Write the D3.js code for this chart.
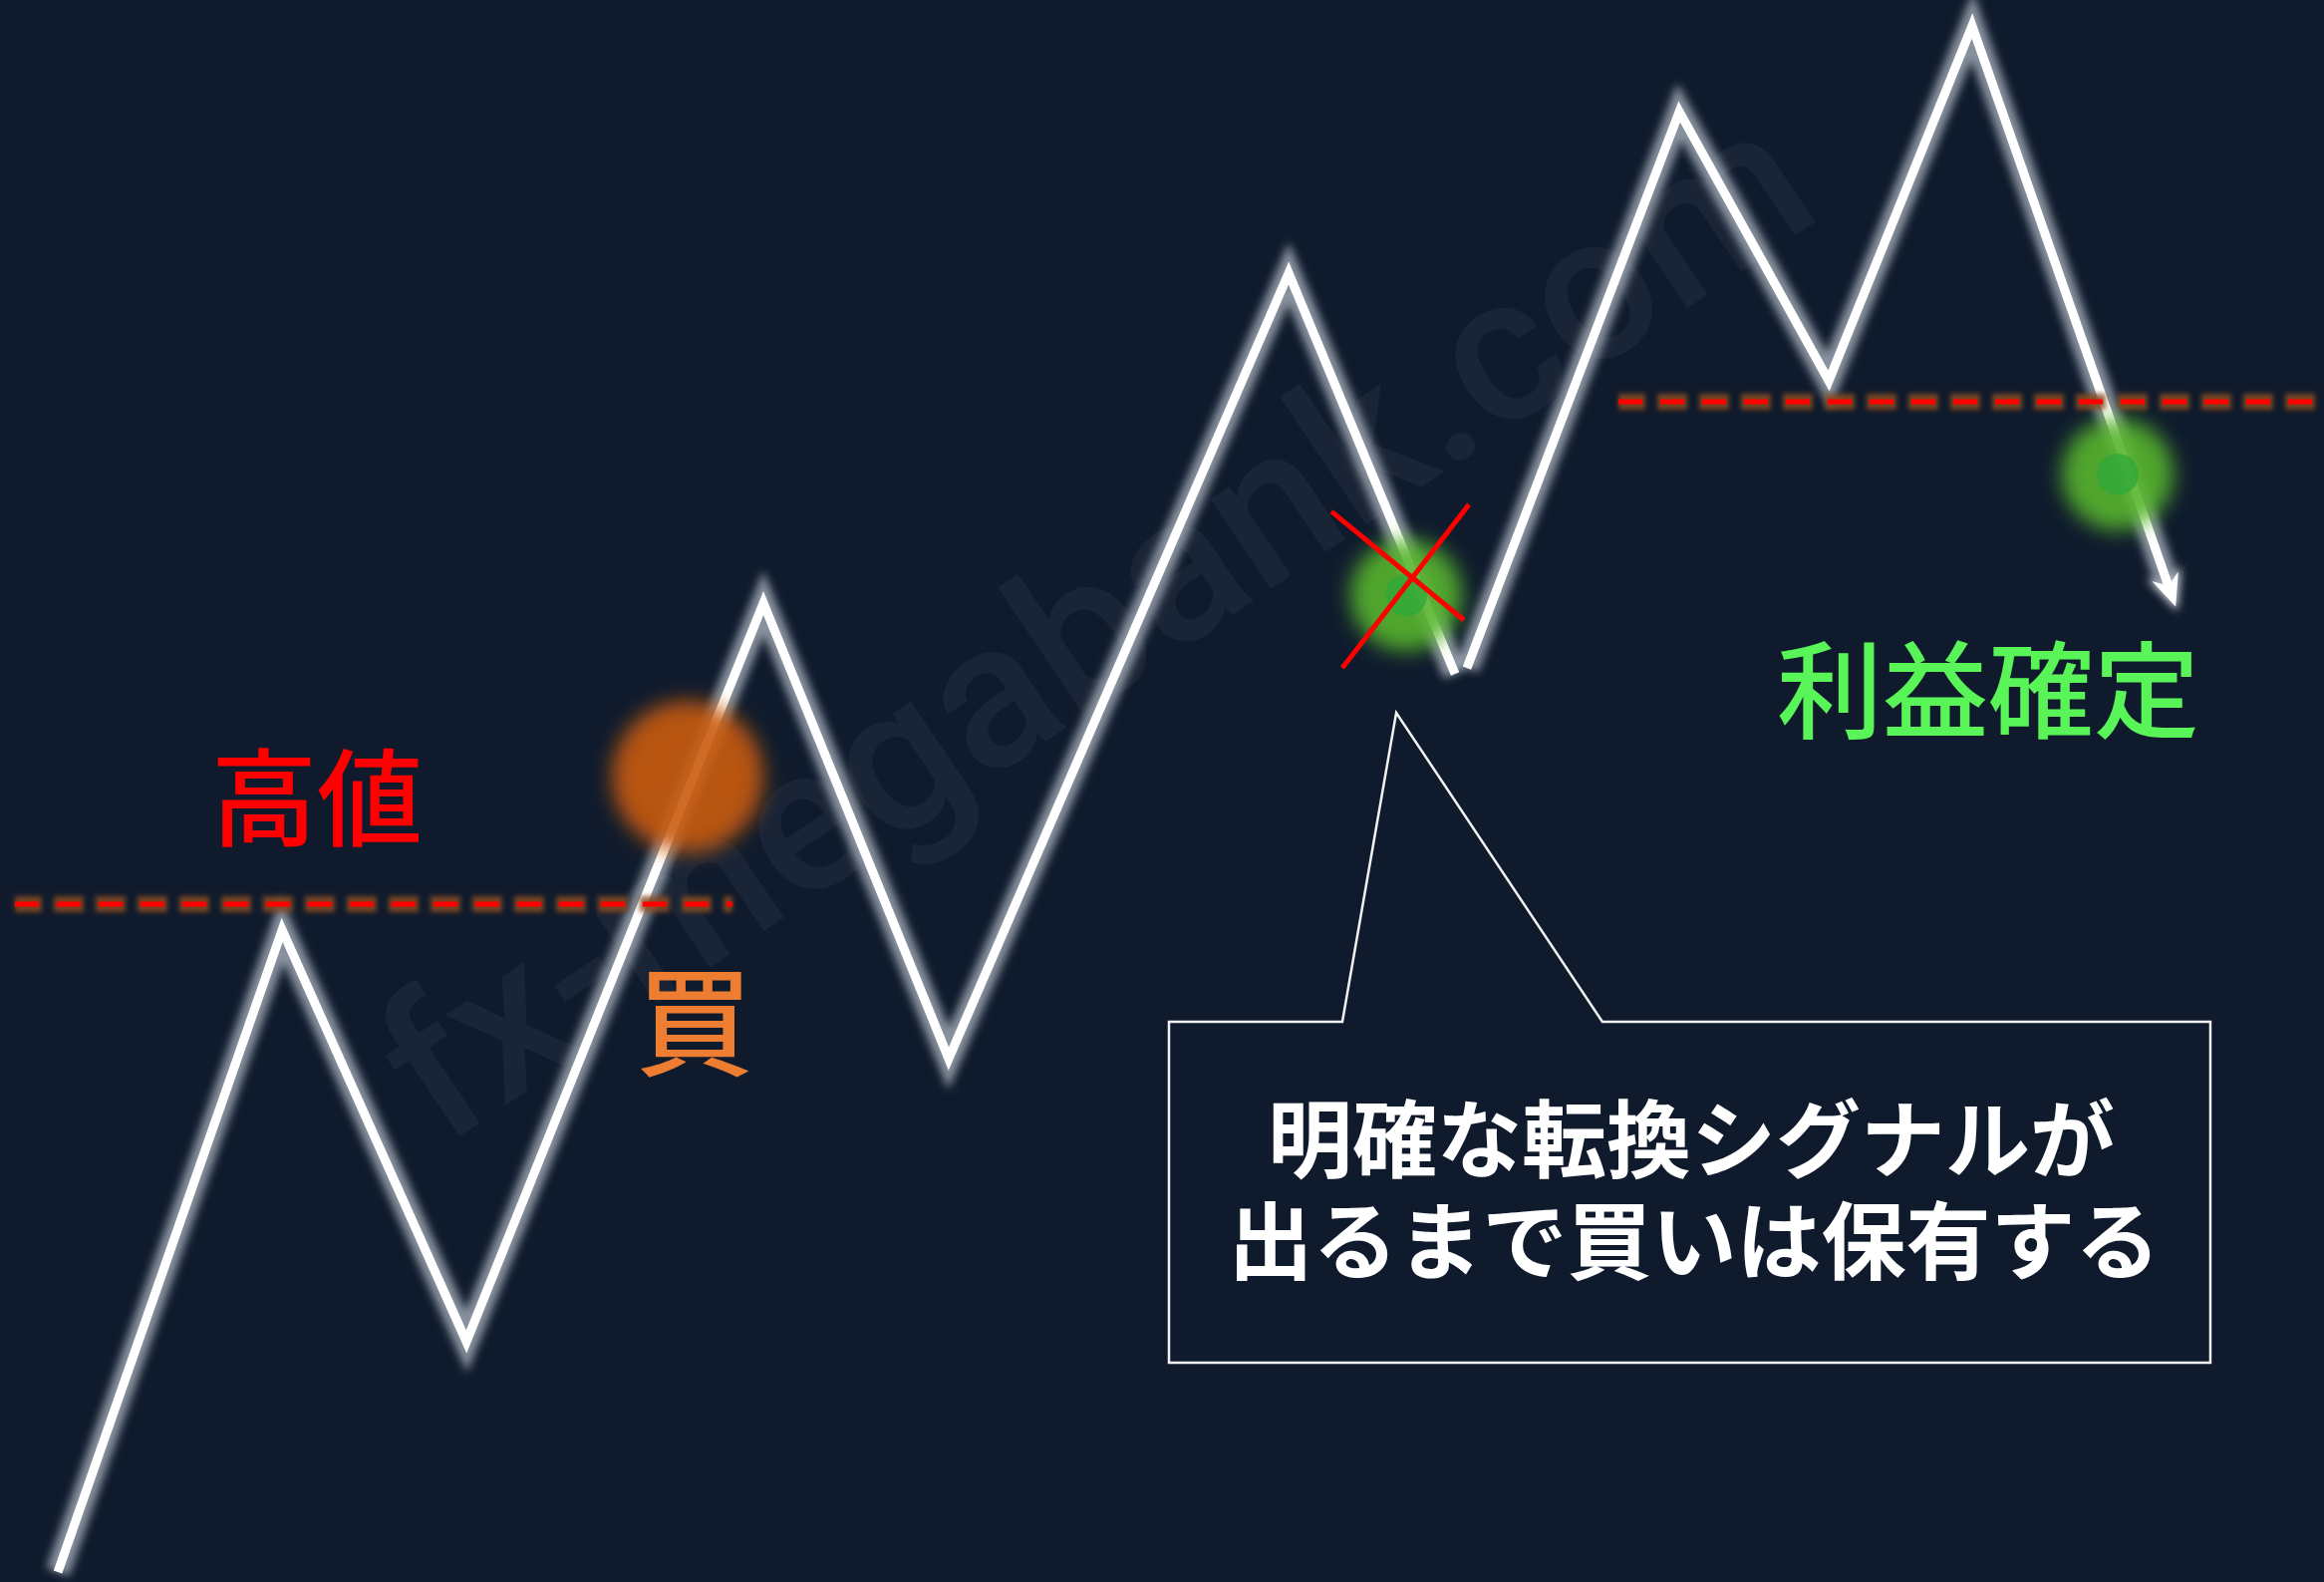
<!DOCTYPE html>
<html>
<head>
<meta charset="utf-8">
<script src="https://cdn.jsdelivr.net/npm/d3@7"></script>
<style>
  html, body { margin: 0; padding: 0; background: #0f1b2d; }
  svg { display: block; }
</style>
</head>
<body>
<svg id="chart"></svg>
<script>
const width = 2332;
const height = 1587;

// price path, in chart units (time 0-100, price 0-100)
const legA = [
  { t: 2.49, p: 0.63 },
  { t: 12.14, p: 41.21 },
  { t: 20.07, p: 15.19 },
  { t: 32.85, p: 61.88 },
  { t: 40.82, p: 33.08 },
  { t: 55.45, p: 82.73 },
  { t: 62.61, p: 57.4 }
];
const legB = [
  { t: 63.12, p: 57.78 },
  { t: 72.26, p: 92.94 },
  { t: 78.69, p: 75.93 },
  { t: 84.86, p: 98.36 },
  { t: 93.61, p: 61.69 }
];

// resistance levels
const levels = [
  { p: 42.85, t0: 0.64, t1: 31.52 },
  { p: 74.61, t0: 69.64, t1: 100 }
];

// glow markers
const blobs = [
  { t: 29.59, p: 50.9, r: 76, color: "#c95b0d", dot: null },
  { t: 60.51, p: 62.38, r: 56, color: "#58b52c", dot: "#2ea83a" },
  { t: 91.12, p: 70.01, r: 56, color: "#58b52c", dot: "#2ea83a" }
];

// the cross over the failed signal
const cross = [
  [{ t: 57.29, p: 67.67 }, { t: 62.99, p: 60.81 }],
  [{ t: 63.21, p: 68.11 }, { t: 57.76, p: 57.78 }]
];

// callout box
const box = { t0: 50.3, t1: 95.11, p0: 13.86, p1: 35.41 };
const pointer = [
  { t: 57.76, p: 35.41 },
  { t: 60.08, p: 54.95 },
  { t: 68.95, p: 35.41 }
];

const labels = [
  { text: "高値", t: 13.64, p: 50.0, size: 106, color: "#ff0000" },
  { text: "買", t: 29.89, p: 35.85, size: 118, color: "#ed7d31" },
  { text: "利益確定", t: 85.55, p: 56.8, size: 106, color: "#58f458" }
];
const boxLines = [
  { text: "明確な転換シグナルが", t: 72.77, p: 28.35 },
  { text: "出るまで買いは保有する", t: 72.9, p: 21.9 }
];

const x = d3.scaleLinear().domain([0, 100]).range([0, width]);
const y = d3.scaleLinear().domain([0, 100]).range([height, 0]);

const svg = d3.select("#chart").attr("width", width).attr("height", height);

const defs = svg.append("defs");
const addBlur = (id, sd) => {
  defs
    .append("filter")
    .attr("id", id)
    .attr("filterUnits", "userSpaceOnUse")
    .attr("x", 0)
    .attr("y", 0)
    .attr("width", width)
    .attr("height", height)
    .append("feGaussianBlur")
    .attr("stdDeviation", sd);
};
addBlur("glow", 4);
addBlur("dashGlow", 2.5);
addBlur("blobBlur", 10);

// arrow head, tip sits 18px past the end of the shortened shaft
const addArrow = (id, fill, grow) => {
  defs
    .append("marker")
    .attr("id", id)
    .attr("markerUnits", "userSpaceOnUse")
    .attr("viewBox", "-24 -24 48 48")
    .attr("markerWidth", 48)
    .attr("markerHeight", 48)
    .attr("refX", 0)
    .attr("refY", 0)
    .attr("orient", "auto")
    .append("path")
    .attr("d", `M${19 + grow},0 L${-13 - grow},${-14 - grow} L-3,0 L${-13 - grow},${14 + grow} Z`)
    .attr("fill", fill);
};
addArrow("arrow", "#ffffff", 0);
addArrow("arrowGlow", "#c9d1da", 5);

svg
  .append("rect")
  .attr("width", width)
  .attr("height", height)
  .attr("fill", "#0f1b2d");

// watermark
svg
  .append("text")
  .attr("transform", `translate(${x(47.1)},${y(60.6)}) rotate(-34)`)
  .attr("text-anchor", "middle")
  .attr("dominant-baseline", "central")
  .attr("font-family", "Roboto, 'Noto Sans', sans-serif")
  .attr("font-weight", 500)
  .attr("font-size", 206)
  .attr("fill", "#ffffff")
  .attr("fill-opacity", 0.045)
  .text("fx-megabank.com");

const line = d3
  .line()
  .x(d => x(d.t))
  .y(d => y(d.p));

// shorten the last leg so the arrow tip lands on the final point
const lastA = legB[legB.length - 2];
const lastB = legB[legB.length - 1];
const shaftB = legB.slice(0, -1).concat([
  {
    t: lastB.t - (lastB.t - lastA.t) * 0.03,
    p: lastB.p - (lastB.p - lastA.p) * 0.03
  }
]);

const path = svg.append("g");
[legA, shaftB].forEach((leg, i) => {
  path
    .append("path")
    .attr("d", line(leg))
    .attr("fill", "none")
    .attr("stroke", "#c9d1da")
    .attr("stroke-opacity", 0.65)
    .attr("stroke-width", 24)
    .attr("marker-end", i === 1 ? "url(#arrowGlow)" : null)
    .attr("filter", "url(#glow)");
});
path
  .append("path")
  .attr("d", line(legA))
  .attr("fill", "none")
  .attr("stroke", "#ffffff")
  .attr("stroke-width", 9);
path
  .append("path")
  .attr("d", line(shaftB))
  .attr("fill", "none")
  .attr("stroke", "#ffffff")
  .attr("stroke-width", 9)
  .attr("marker-end", "url(#arrow)");

// dashed levels
const lv = svg.append("g");
lv.selectAll(".lvGlow")
  .data(levels)
  .join("line")
  .attr("class", "lvGlow")
  .attr("x1", d => x(d.t0))
  .attr("x2", d => x(d.t1))
  .attr("y1", d => y(d.p))
  .attr("y2", d => y(d.p))
  .attr("stroke", "#8a4a1c")
  .attr("stroke-opacity", 0.85)
  .attr("stroke-width", 16)
  .attr("stroke-dasharray", "30 12")
  .attr("stroke-dashoffset", 3)
  .attr("filter", "url(#dashGlow)");
lv.selectAll(".lvLine")
  .data(levels)
  .join("line")
  .attr("class", "lvLine")
  .attr("x1", d => x(d.t0))
  .attr("x2", d => x(d.t1))
  .attr("y1", d => y(d.p))
  .attr("y2", d => y(d.p))
  .attr("stroke", "#ff0000")
  .attr("stroke-width", 5)
  .attr("stroke-dasharray", "24 18");

// glowing blobs
const bl = svg.append("g");
bl.selectAll(".blob")
  .data(blobs)
  .join("circle")
  .attr("class", "blob")
  .attr("cx", d => x(d.t))
  .attr("cy", d => y(d.p))
  .attr("r", d => d.r)
  .attr("fill", d => d.color)
  .attr("fill-opacity", 0.9)
  .attr("filter", "url(#blobBlur)");
bl.selectAll(".dot")
  .data(blobs.filter(d => d.dot))
  .join("circle")
  .attr("class", "dot")
  .attr("cx", d => x(d.t))
  .attr("cy", d => y(d.p))
  .attr("r", 21)
  .attr("fill", d => d.dot)
  .attr("fill-opacity", 0.75);

// cross
svg
  .append("g")
  .selectAll("line")
  .data(cross)
  .join("line")
  .attr("x1", d => x(d[0].t))
  .attr("y1", d => y(d[0].p))
  .attr("x2", d => x(d[1].t))
  .attr("y2", d => y(d[1].p))
  .attr("stroke", "#ff0000")
  .attr("stroke-width", 5);

// callout
const outline = [
  [x(pointer[0].t), y(box.p1)],
  [x(pointer[1].t), y(pointer[1].p)],
  [x(pointer[2].t), y(box.p1)],
  [x(box.t1), y(box.p1)],
  [x(box.t1), y(box.p0)],
  [x(box.t0), y(box.p0)],
  [x(box.t0), y(box.p1)]
];
svg
  .append("path")
  .attr("d", d3.line()(outline) + "Z")
  .attr("fill", "#0f1b2d")
  .attr("stroke", "#f2f2f2")
  .attr("stroke-width", 2.5);

svg
  .append("g")
  .selectAll("text")
  .data(boxLines)
  .join("text")
  .attr("x", d => x(d.t))
  .attr("y", d => y(d.p))
  .attr("text-anchor", "middle")
  .attr("dominant-baseline", "central")
  .attr("font-family", "'Noto Sans CJK JP', sans-serif")
  .attr("font-weight", 700)
  .attr("font-size", 85)
  .attr("fill", "#ffffff")
  .text(d => d.text);

svg
  .append("g")
  .selectAll("text")
  .data(labels)
  .join("text")
  .attr("x", d => x(d.t))
  .attr("y", d => y(d.p))
  .attr("text-anchor", "middle")
  .attr("dominant-baseline", "central")
  .attr("font-family", "'Noto Sans CJK JP', sans-serif")
  .attr("font-weight", 500)
  .attr("font-size", d => d.size)
  .attr("fill", d => d.color)
  .text(d => d.text);
</script>
</body>
</html>
